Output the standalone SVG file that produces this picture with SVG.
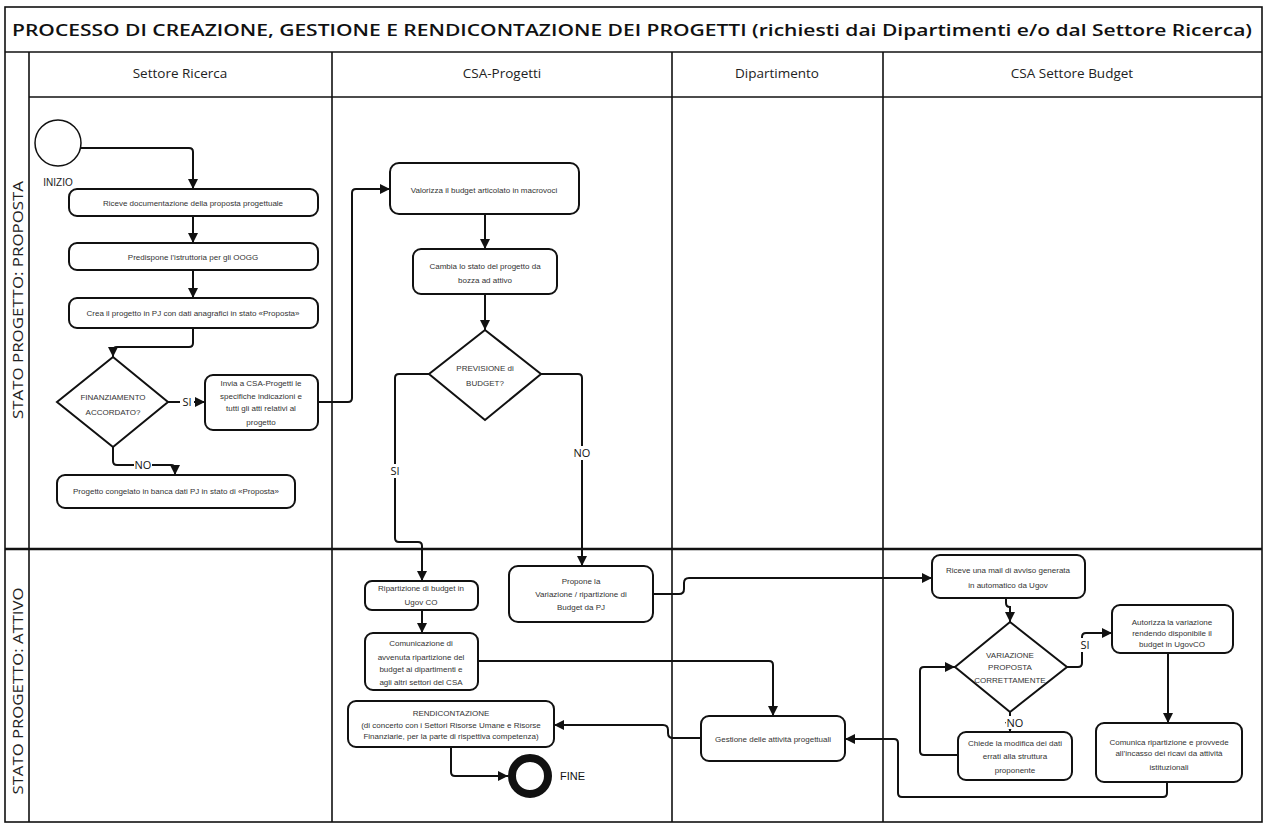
<svg xmlns="http://www.w3.org/2000/svg" width="1267" height="828" viewBox="0 0 1267 828">
<style>
.frame{fill:none;stroke:#111;stroke-width:1.6}
.node{fill:#fff;stroke:#111;stroke-width:2}
.t{font-family:"Liberation Sans",Arial,sans-serif;font-size:8px;fill:#333;text-anchor:middle}
.hd{font-family:"Open Sans","Liberation Sans",sans-serif;font-size:13.5px;fill:#222;text-anchor:middle}
.lane{font-family:"Open Sans","Liberation Sans",sans-serif;font-size:15px;fill:#222;text-anchor:middle}
.lbl{font-family:"Open Sans","Liberation Sans",sans-serif;font-size:11px;fill:#111;text-anchor:middle}
.bg{fill:#fff;stroke:none}
.c{fill:none;stroke:#111;stroke-width:2}
.ca{fill:none;stroke:#111;stroke-width:2;marker-end:url(#ah)}
</style>
<defs>
<marker id="ah" markerUnits="userSpaceOnUse" markerWidth="10" markerHeight="10" viewBox="0 0 10 10" refX="10" refY="5" orient="auto">
<path d="M0,0 L10,5 L0,10 Z" fill="#111"/>
</marker>
</defs>
<rect width="1267" height="828" fill="#fff"/>
<g id="frame">
<rect class="frame" x="5" y="7" width="1257" height="815"/>
<line class="frame" x1="5" y1="52" x2="1262" y2="52"/>
<line class="frame" x1="29" y1="97" x2="1262" y2="97"/>
<line class="frame" x1="29" y1="52" x2="29" y2="822"/>
<line class="frame" x1="332" y1="52" x2="332" y2="822"/>
<line class="frame" x1="672" y1="52" x2="672" y2="822"/>
<line class="frame" x1="883" y1="52" x2="883" y2="822"/>
<line x1="5" y1="549" x2="1262" y2="549" stroke="#111" stroke-width="2.4"/>
<text x="632" y="36" font-family="'Open Sans','Liberation Sans',sans-serif" font-size="17" font-weight="600" fill="#111" text-anchor="middle" textLength="1240" lengthAdjust="spacingAndGlyphs">PROCESSO DI CREAZIONE, GESTIONE E RENDICONTAZIONE DEI PROGETTI (richiesti dai Dipartimenti e/o dal Settore Ricerca)</text>
<text class="hd" x="180" y="78">Settore Ricerca</text>
<text class="hd" x="502" y="78">CSA-Progetti</text>
<text class="hd" x="777" y="78">Dipartimento</text>
<text class="hd" x="1072" y="78">CSA Settore Budget</text>
<text class="lane" transform="translate(23,300) rotate(-90)" textLength="238" lengthAdjust="spacingAndGlyphs">STATO PROGETTO: PROPOSTA</text>
<text class="lane" transform="translate(23,691) rotate(-90)" textLength="207" lengthAdjust="spacingAndGlyphs">STATO PROGETTO: ATTIVO</text>
</g>
<g id="connectors">
<path class="ca" d="M81,148 H189 Q193,148 193,152 V189"/>
<path class="ca" d="M193,216 V243"/>
<path class="ca" d="M193,270 V298"/>
<path class="ca" d="M193,328 V343 Q193,347 189,347 H117 Q113,347 113,351 V357"/>
<path class="ca" d="M168,402 H205"/>
<rect class="bg" x="180" y="396" width="14" height="12"/>
<text class="lbl" x="187" y="406">SI</text>
<path class="ca" d="M113,447 V461 Q113,465 117,465 H171 Q175,465 175,469 V475"/>
<rect class="bg" x="134" y="459" width="18" height="12"/>
<text class="lbl" x="143" y="469">NO</text>
<path class="ca" d="M318,402 H348 Q352,402 352,398 V193 Q352,189 356,189 H390"/>
<path class="ca" d="M485,214 V249"/>
<path class="ca" d="M485,294 V330"/>
<path class="ca" d="M429,374 H399 Q395,374 395,378 V538 Q395,542 399,542 H418 Q422,542 422,546 V581"/>
<rect class="bg" x="389" y="464" width="12" height="14"/>
<text class="lbl" x="395" y="475">SI</text>
<path class="ca" d="M541,374 H578 Q582,374 582,378 V566"/>
<rect class="bg" x="573" y="446" width="18" height="14"/>
<text class="lbl" x="582" y="457">NO</text>
<path class="ca" d="M422,610 V633"/>
<path class="ca" d="M478,661 H769 Q773,661 773,665 V716"/>
<path class="ca" d="M653,594 H679 Q684,594 684,589 V583 Q684,578 689,578 H932"/>
<path class="ca" d="M701,738 H673 Q668,738 668,733 V730 Q668,725 663,725 H554"/>
<path class="ca" d="M451,747 V772 Q451,776 455,776 H508"/>
<path class="ca" d="M1006,598 V603 Q1006,607 1010,607 V622"/>
<path class="ca" d="M1067,667 H1078 Q1082,667 1082,663 V637 Q1082,633 1086,633 H1112"/>
<rect class="bg" x="1078" y="638" width="14" height="14"/>
<text class="lbl" x="1085" y="649">SI</text>
<path class="ca" d="M1010,712 V732"/>
<rect class="bg" x="1006" y="716" width="18" height="13"/>
<text class="lbl" x="1015" y="727">NO</text>
<path class="ca" d="M958,755 H924 Q920,755 920,751 V671 Q920,667 924,667 H955"/>
<path class="ca" d="M1168,653 V723"/>
<path class="ca" d="M1167,782 V793 Q1167,797 1163,797 H902 Q898,797 898,793 V743 Q898,739 894,739 H845"/>
</g>
<g id="inizio">
<circle cx="58" cy="143" r="23" fill="#fff" stroke="#111" stroke-width="1.5"/>
<text x="58" y="186" font-family="'Liberation Sans',Arial,sans-serif" font-size="10" fill="#222" text-anchor="middle">INIZIO</text>
</g>
<g id="n-riceve-doc">
<rect class="node" x="69" y="189" width="249" height="27" rx="8"/>
<text class="t" x="193" y="206">Riceve documentazione della proposta progettuale</text>
</g>
<g id="n-predispone">
<rect class="node" x="69" y="243" width="249" height="27" rx="8"/>
<text class="t" x="193" y="260">Predispone l’istruttoria per gli OOGG</text>
</g>
<g id="n-crea">
<rect class="node" x="69" y="298" width="249" height="30" rx="8"/>
<text class="t" x="193" y="316">Crea il progetto in PJ con dati anagrafici in stato «Proposta»</text>
</g>
<g id="d-finanziamento">
<polygon class="node" points="113,357 168,402 113,447 57,402"/>
<text class="t" x="113" y="400">FINANZIAMENTO</text>
<text class="t" x="113" y="415">ACCORDATO?</text>
</g>
<g id="n-invia">
<rect class="node" x="205" y="375" width="113" height="55" rx="8"/>
<text class="t" x="261" y="386">Invia a CSA-Progetti le</text>
<text class="t" x="261" y="399">specifiche indicazioni e</text>
<text class="t" x="261" y="411">tutti gli atti relativi al</text>
<text class="t" x="261" y="425">progetto</text>
</g>
<g id="n-congelato">
<rect class="node" x="57" y="475" width="238" height="33" rx="8"/>
<text class="t" x="176" y="494">Progetto congelato in banca dati PJ in stato di «Proposta»</text>
</g>
<g id="n-valorizza">
<rect class="node" x="390" y="163" width="189" height="51" rx="9"/>
<text class="t" x="484" y="193">Valorizza il budget articolato in macrovoci</text>
</g>
<g id="n-cambia">
<rect class="node" x="413" y="249" width="144" height="45" rx="8"/>
<text class="t" x="485" y="269">Cambia lo stato del progetto da</text>
<text class="t" x="485" y="283">bozza ad attivo</text>
</g>
<g id="d-previsione">
<polygon class="node" points="485,330 541,374 485,420 429,374"/>
<text class="t" x="485" y="371">PREVISIONE di</text>
<text class="t" x="485" y="386">BUDGET?</text>
</g>
<g id="n-ripartizione">
<rect class="node" x="365" y="581" width="113" height="29" rx="7"/>
<text class="t" x="421" y="591">Ripartizione di budget in</text>
<text class="t" x="421" y="605">Ugov CO</text>
</g>
<g id="n-comunicazione">
<rect class="node" x="365" y="633" width="113" height="57" rx="8"/>
<text class="t" x="421" y="646">Comunicazione di</text>
<text class="t" x="421" y="660">avvenuta ripartizione del</text>
<text class="t" x="421" y="672">budget ai dipartimenti e</text>
<text class="t" x="421" y="685">agli altri settori del CSA</text>
</g>
<g id="n-propone">
<rect class="node" x="509" y="566" width="144" height="56" rx="9"/>
<text class="t" x="581" y="584">Propone la</text>
<text class="t" x="581" y="597">Variazione / ripartizione di</text>
<text class="t" x="581" y="610">Budget da PJ</text>
</g>
<g id="n-rendicontazione">
<rect class="node" x="348" y="701" width="206" height="46" rx="8"/>
<text class="t" x="451" y="716">RENDICONTAZIONE</text>
<text class="t" x="451" y="728">(di concerto con i Settori Risorse Umane e Risorse</text>
<text class="t" x="451" y="739">Finanziarie, per la parte di rispettiva competenza)</text>
</g>
<g id="fine">
<circle cx="530" cy="776" r="18" fill="#fff" stroke="#111" stroke-width="8"/>
<text x="560" y="780" font-family="'Liberation Sans',Arial,sans-serif" font-size="11" fill="#111">FINE</text>
</g>
<g id="n-gestione">
<rect class="node" x="701" y="716" width="144" height="45" rx="8"/>
<text class="t" x="773" y="742" font-size="8.5">Gestione delle attività progettuali</text>
</g>
<g id="n-riceve-mail">
<rect class="node" x="932" y="555" width="153" height="43" rx="8"/>
<text class="t" x="1008" y="573">Riceve una mail di avviso generata</text>
<text class="t" x="1008" y="588">in automatico da Ugov</text>
</g>
<g id="d-variazione">
<polygon class="node" points="1010,622 1067,667 1010,712 955,667"/>
<text class="t" x="1010" y="658">VARIAZIONE</text>
<text class="t" x="1010" y="670">PROPOSTA</text>
<text class="t" x="1010" y="683">CORRETTAMENTE</text>
</g>
<g id="n-autorizza">
<rect class="node" x="1112" y="605" width="121" height="48" rx="8"/>
<text class="t" x="1172" y="625">Autorizza la variazione</text>
<text class="t" x="1172" y="636">rendendo disponibile il</text>
<text class="t" x="1172" y="647">budget in UgovCO</text>
</g>
<g id="n-chiede">
<rect class="node" x="958" y="732" width="114" height="48" rx="8"/>
<text class="t" x="1015" y="746">Chiede la modifica dei dati</text>
<text class="t" x="1015" y="759">errati alla struttura</text>
<text class="t" x="1015" y="773">proponente</text>
</g>
<g id="n-comunica">
<rect class="node" x="1096" y="723" width="146" height="59" rx="8"/>
<text class="t" x="1169" y="745">Comunica ripartizione e provvede</text>
<text class="t" x="1169" y="756">all’incasso dei ricavi da attività</text>
<text class="t" x="1169" y="770">istituzionali</text>
</g>
</svg>
